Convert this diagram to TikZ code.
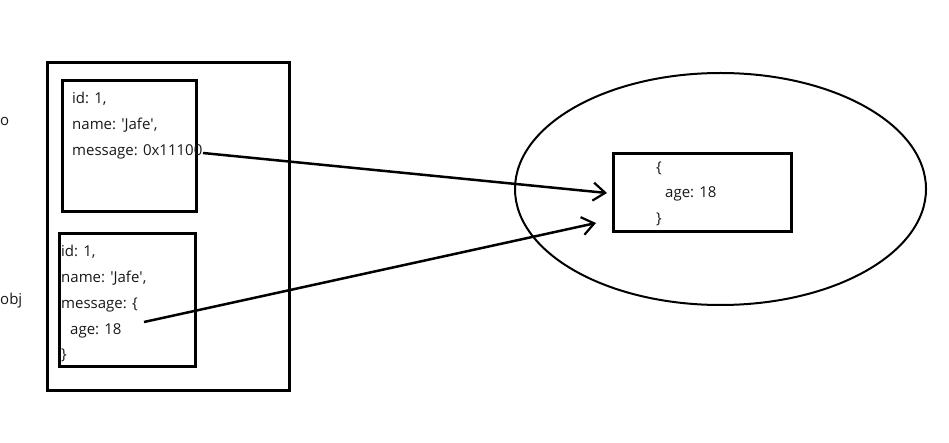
\documentclass[tikz,border=0pt]{standalone}
\usepackage{fontspec}
\setmainfont{Open Sans}
\usetikzlibrary{arrows.meta}
\newcommand{\sq}{\textquotesingle}
\begin{document}
\begin{tikzpicture}[x=1pt,y=-1pt,
  box/.style={draw=black,line width=3pt},
  txt/.style={anchor=base west,inner sep=0pt,font=\fontsize{15}{17}\selectfont,text=black!90},
  arr/.style={line width=2.5pt,-{Straight Barb[length=12pt,width=18pt,line width=2.2pt]}}]
\useasboundingbox[fill=white] (0,0) rectangle (949,443);
% outer frame
\draw[box] (47,63) rectangle (289,390);
\draw[box] (62,81) rectangle (196,212);
\draw[box] (59,234) rectangle (195,366);
% labels
\node[txt] (lo) at (0,126) {o};
\node[txt] (lobj) at (0,304) {obj};
% box o text
\node[txt] (o1) at (72,104) {id: 1,};
\node[txt] (o2) at (72,130) {name: \sq Jafe\sq,};
\node[txt] (o3) at (72,156) {message: 0x11100};
% box obj text
\node[txt] (b1) at (61,257) {id: 1,};
\node[txt] (b2) at (61,283) {name: \sq Jafe\sq,};
\node[txt] (b3) at (61,308) {message: \{};
\node[txt] (b4) at (70,334) {age: 18};
\node[txt] (b5) at (61,359) {\}};
% heap
\draw[line width=2pt] (720.5,189) ellipse [x radius=205.5, y radius=116];
\node[box,minimum width=178pt,minimum height=78pt,inner sep=0pt] (heap) at (702,193) {};
\node[txt] (h1) at (656,173) {\{};
\node[txt] (h2) at (665,198) {age: 18};
\node[txt] (h3) at (656,224) {\}};
% connectors
\coordinate (s1) at (203,153);
\coordinate (e1) at (607,193);
\coordinate (s2) at (144,322);
\coordinate (e2) at (596,223);
\draw[arr] (s1) -- (e1);
\draw[arr] (s2) -- (e2);
\end{tikzpicture}
\end{document}
